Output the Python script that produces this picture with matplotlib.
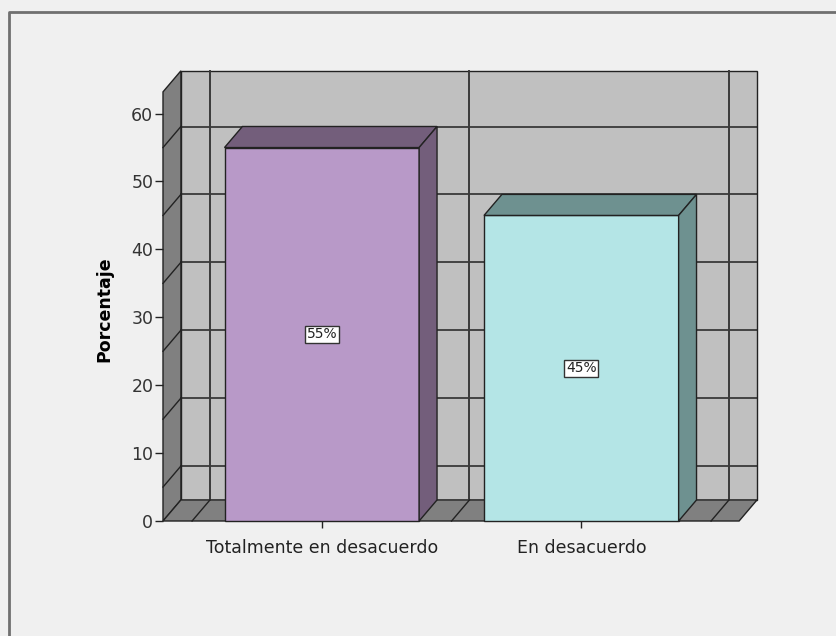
import matplotlib
matplotlib.use("Agg")
import matplotlib.pyplot as plt
from matplotlib.patches import Polygon
from matplotlib.lines import Line2D

plt.rcParams['font.family'] = ['DejaVu Sans']

categories = ['Totalmente en desacuerdo', 'En desacuerdo']
percent = [55, 45]
labels = ['55%', '45%']
front_colors = ['#b899c8', '#b4e5e6']
shade_colors = ['#735e7b', '#6e9190']
yticks = [0, 10, 20, 30, 40, 50, 60]
grid_vals = [5, 15, 25, 35, 45, 55]

# 3d box extents (data units)
x0, x1 = -0.612, 1.608
ytop = 63.2
dx, dy = 0.069, 3.1
bw = 0.75
edge = '#222222'

fig = plt.figure(figsize=(8.36, 6.36), dpi=100)
fig.patch.set_facecolor('#f0f0f0')
# outer frame, open on right and bottom
fig.add_artist(Line2D([9 / 836, 9 / 836, 1.0], [0.0, 1 - 12 / 636, 1 - 12 / 636],
                      transform=fig.transFigure, color='#707070', lw=2))

ax = fig.add_axes([163 / 836, (636 - 521) / 636, (2.31 * 259.5) / 836, (66.5 * 6.79) / 636])
ax.set_xlim(x0, x0 + 2.31)
ax.set_ylim(0, 66.5)
ax.set_facecolor('none')
for s in ax.spines.values():
    s.set_visible(False)

def poly(pts, fc, z=1, lw=1.0):
    ax.add_patch(Polygon(pts, closed=True, facecolor=fc, edgecolor=edge, lw=lw, zorder=z, clip_on=False))

# back wall, left wall, floor
poly([(x0 + dx, dy), (x1 + dx, dy), (x1 + dx, ytop + dy), (x0 + dx, ytop + dy)], '#c0c0c0')
poly([(x0, 0), (x0 + dx, dy), (x0 + dx, ytop + dy), (x0, ytop)], '#808080')
poly([(x0, 0), (x1, 0), (x1 + dx, dy), (x0 + dx, dy)], '#808080')

# grid lines on the walls
for v in grid_vals:
    ax.plot([x0 + dx, x1 + dx], [v + dy, v + dy], color='#222222', lw=1.1, zorder=2, clip_on=False)
    ax.plot([x0, x0 + dx], [v, v + dy], color='#222222', lw=1.0, zorder=2, clip_on=False)
for g in [-0.5, 0.5, 1.5]:
    ax.plot([g + dx, g + dx], [dy, ytop + dy], color='#3a3a3a', lw=1.4, zorder=2, clip_on=False)
    ax.plot([g, g + dx], [0, dy], color='#222222', lw=1.0, zorder=2, clip_on=False)

# bars
for i, v in enumerate(percent):
    l, r = i - bw / 2, i + bw / 2
    poly([(l, 0), (r, 0), (r, v), (l, v)], front_colors[i], z=3)
    poly([(l, v), (r, v), (r + dx, v + dy), (l + dx, v + dy)], shade_colors[i], z=3)
    poly([(r, 0), (r + dx, dy), (r + dx, v + dy), (r, v)], shade_colors[i], z=3)
    ax.text(i, v / 2, labels[i], ha='center', va='center', fontsize=10, zorder=5, color='#222222',
            bbox=dict(boxstyle='square,pad=0.12', facecolor='white', edgecolor='#333333', lw=1))

ax.set_yticks(yticks)
ax.set_yticklabels([str(t) for t in yticks], fontsize=12.5, color='#333333')
ax.tick_params(axis='y', length=6, width=1, color='#222222', pad=1)
ax.set_xticks(range(len(categories)))
ax.set_xticklabels(categories, fontsize=12.5, color='#222222')
ax.tick_params(axis='x', length=5, width=1, color='#222222', pad=8)
ax.set_ylabel('Porcentaje', fontsize=12.5, fontweight='bold')
ax.yaxis.set_label_coords(-0.082, 0.47)

fig.savefig('out.png', dpi=100, facecolor=fig.get_facecolor())
